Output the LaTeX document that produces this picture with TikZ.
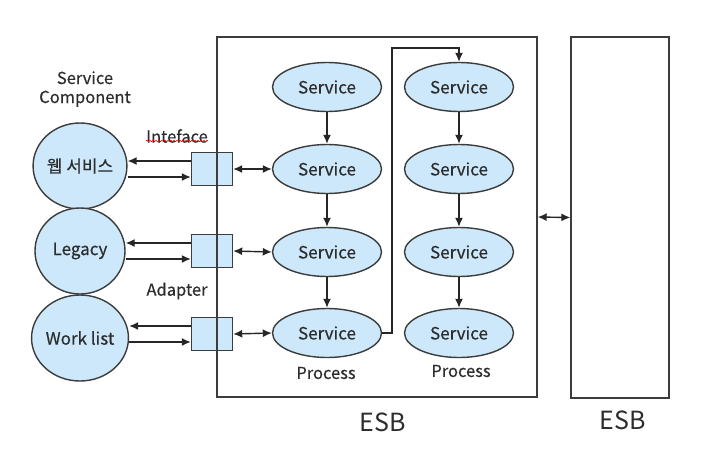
\documentclass[tikz,border=0pt]{standalone}
\usepackage{fontspec}
\setmainfont{Noto Sans CJK KR}[BoldFont={Noto Sans CJK KR},BoldFeatures={FakeBold=0.4}]
\usetikzlibrary{arrows.meta,shapes.geometric,decorations.pathmorphing}
\definecolor{lb}{RGB}{204,232,250}
\definecolor{ln}{RGB}{60,60,60}
\definecolor{tx}{RGB}{45,45,45}
\begin{document}
\begin{tikzpicture}[x=1pt,y=-1pt,
  svc/.style={ellipse,draw=ln,fill=lb,line width=1.4pt,minimum width=109pt,minimum height=49pt,inner sep=0pt,text=tx,font=\bfseries\fontsize{17}{19}\selectfont},
  comp/.style={ellipse,draw=ln,fill=lb,line width=1.4pt,minimum width=90pt,minimum height=86pt,inner sep=0pt,text=tx,font=\bfseries\fontsize{17}{19}\selectfont},
  ibox/.style={rectangle,draw=ln,fill=lb,line width=1.4pt,minimum width=41pt,minimum height=33pt,inner sep=0pt},
  esbbox/.style={rectangle,draw=ln,line width=1.4pt,inner sep=0pt},
  lbl/.style={text=tx,font=\bfseries\fontsize{16.5}{19}\selectfont,inner sep=0pt},
  tip/.tip={Latex[length=9pt,width=8pt]},
  arr/.style={draw=black!85,line width=1.4pt,-tip},
  darr/.style={draw=black!85,line width=1.4pt,tip-tip}]
\useasboundingbox[fill=white] (0,0) rectangle (706,469);

% interface boxes
\node[ibox] (ib1) at (212,169) {};
\node[ibox] (ib2) at (212,251) {};
\node[ibox] (ib3) at (212,334) {};

% ESB boxes
\node[esbbox,minimum width=320pt,minimum height=360pt] (esb1) at (377,217) {};
\node[esbbox,minimum width=98pt,minimum height=361pt] (esb2) at (620,217.5) {};
\draw[darr] (esb1.east) -- (esb2.west);

% services
\node[svc] (a1) at (327,87) {Service};
\node[svc] (a2) at (327,169) {Service};
\node[svc] (a3) at (327,252) {Service};
\node[svc] (a4) at (327,333) {Service};
\node[svc] (b1) at (459,87) {Service};
\node[svc] (b2) at (459,169) {Service};
\node[svc] (b3) at (459,252) {Service};
\node[svc] (b4) at (459,333) {Service};

\draw[arr] (a1) -- (a2);
\draw[arr] (a2) -- (a3);
\draw[arr] (a3) -- (a4);
\draw[arr] (b1) -- (b2);
\draw[arr] (b2) -- (b3);
\draw[arr] (b3) -- (b4);
\coordinate (k1) at (392,48);
\draw[arr] (a4.east) -| (k1) -| (b1.north);

\draw[darr] (ib1.east) -- (a2.west);
\draw[darr] (ib2.east) -- (a3.west);
\draw[darr] (ib3.east) -- (a4.west);

% components
\node[comp] (w) at (80,166) {웹 서비스};
\node[comp] (l) at (80,251) {Legacy};
\node[comp] (wl) at (80,338) {Work list};

\draw[arr] ([yshift=8pt]ib1.west) -- ([yshift=8pt]ib1.west -| w.east);
\draw[arr] ([yshift=-8pt]ib1.west -| w.east) -- ([yshift=-8pt]ib1.west);
\draw[arr] ([yshift=8pt]ib2.west) -- ([yshift=8pt]ib2.west -| l.east);
\draw[arr] ([yshift=-8pt]ib2.west -| l.east) -- ([yshift=-8pt]ib2.west);
\draw[arr] ([yshift=8pt]ib3.west) -- ([yshift=8pt]ib3.west -| wl.east);
\draw[arr] ([yshift=-8pt]ib3.west -| wl.east) -- ([yshift=-8pt]ib3.west);

% labels
\node[lbl,align=center] (sc) at (85,89) {Service\\Component};
\node[lbl] (itf) at (177,136) {Inteface};
\draw[red,line width=0.6pt,decorate,decoration={snake,segment length=3pt,amplitude=0.8pt}] (itf.south west) ++(0,-2) -- ++(62,0);
\node[lbl] (adp) at (177,291) {Adapter};
\node[lbl] (p1) at (326,373) {Process};
\node[lbl] (p2) at (461,371) {Process};
\node[lbl,font=\fontsize{25}{30}\selectfont] (e1) at (383,422) {ESB};
\node[lbl,font=\fontsize{25}{30}\selectfont] (e2) at (623,420) {ESB};
\end{tikzpicture}
\end{document}
